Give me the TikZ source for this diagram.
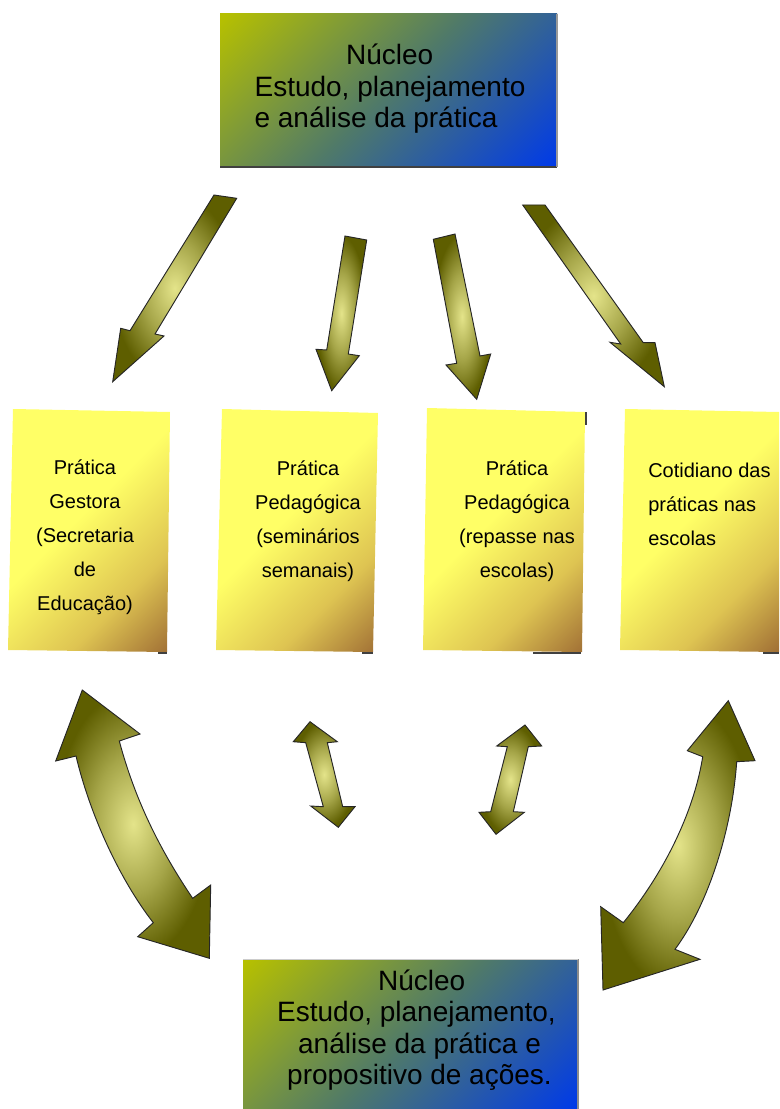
\documentclass[tikz,border=0pt]{standalone}
\usepackage{fontspec}
\setmainfont{Liberation Sans}
\definecolor{alight}{RGB}{228,228,138}
\definecolor{amid}{RGB}{165,165,72}
\definecolor{adark}{RGB}{94,94,0}
\definecolor{ylw}{RGB}{255,255,102}
\definecolor{ymid}{RGB}{222,196,82}
\definecolor{ybrn}{RGB}{158,108,52}
\definecolor{cone}{RGB}{182,192,0}
\definecolor{ctwo}{RGB}{80,122,104}
\definecolor{cthree}{RGB}{0,58,232}
\pgfdeclareradialshading{arrowshade}{\pgfpoint{0bp}{0bp}}{color(0bp)=(alight); color(13bp)=(amid); color(25bp)=(adark); color(50bp)=(adark)}
\pgfdeclarehorizontalshading{yelshade}{100bp}{color(0bp)=(ylw); color(46bp)=(ylw); color(68bp)=(ymid); color(86bp)=(ybrn); color(100bp)=(ybrn)}
\pgfdeclarehorizontalshading{coreshade}{100bp}{color(0bp)=(cone); color(15bp)=(cone); color(50bp)=(ctwo); color(85bp)=(cthree); color(100bp)=(cthree)}
\tikzset{
  blockarrow/.style={shading=arrowshade, draw=black!85, line width=0.7pt, line join=miter},
  yelbox/.style={shading=yelshade, shading angle=-45},
  corebox/.style={shading=coreshade, shading angle=-45},
  coretext/.style={font=\fontsize{21}{23.6}\selectfont, align=left, inner sep=0pt, text=black},
  yeltext/.style={font=\fontsize{15}{25.5}\selectfont, align=center, inner sep=0pt, text=black},
  shadowline/.style={draw=black!75, line width=1.2pt}
}
\begin{document}
\begin{tikzpicture}[x=0.75pt,y=-0.75pt]
\useasboundingbox (0,0) rectangle (779,1109);
% core boxes
\shade[corebox] (220,14) rectangle (557,167);
\draw[shadowline] (220,167) -- (557,167);
\draw[draw=black!40, line width=0.8pt] (557,14) -- (557,167);
\node[coretext] (coretop) at (390,89) {\hspace*{68.6pt}Núcleo\\Estudo, planejamento\\e análise da prática};

\shade[corebox] (243,959) rectangle (578,1109);
\draw[draw=black!45, line width=0.8pt] (578,959) -- (578,1109);
\draw[draw=black!20, line width=0.6pt] (243,959) -- (578,959);
\node[coretext] (corebottom) at (416.5,1030) {\hspace*{75.7pt}Núcleo\\Estudo, planejamento,\\\hspace*{15.7pt}análise da prática e\\\hspace*{7.5pt}propositivo de ações.};

% yellow boxes
\shade[yelbox] (13,409) -- (170,412) -- (167,652) -- (8,650) -- cycle;
\shade[yelbox] (222,409) -- (378,413) -- (373,652) -- (216,650) -- cycle;
\shade[yelbox] (427,408) -- (585,412) -- (582,652) -- (423,650) -- cycle;
\shade[yelbox] (625,409) -- (779,412) -- (779,652) -- (620,650) -- cycle;
\draw[shadowline] (158,653) -- (167,653);
\draw[shadowline] (362,653) -- (373,653);
\draw[shadowline] (533,653) -- (581,653);
\draw[shadowline] (586,412) -- (586,425);
\draw[shadowline] (763,653) -- (779,653);

\node[yeltext] (gestora) at (85,537) {Prática\\Gestora\\(Secretaria\\de\\Educação)};
\node[yeltext] (seminarios) at (308,521) {Prática\\Pedagógica\\(seminários\\semanais)};
\node[yeltext] (repasse) at (517,521) {Prática\\Pedagógica\\(repasse nas\\escolas)};
\node[yeltext, align=left, anchor=west] (cotidiano) at (648,504) {Cotidiano das\\práticas nas\\escolas};

% top arrows
\shadedraw[blockarrow] (214,195) -- (236.7,198.3) -- (155,334) -- (164,336) -- (112.7,381.7) -- (120.7,328.3) -- (130,330.7) -- cycle;
\shadedraw[blockarrow] (345,236) -- (366.7,240) -- (348.3,354) -- (359.3,355.7) -- (331.7,390.7) -- (316,349.3) -- (326.7,350) -- cycle;
\shadedraw[blockarrow] (433.3,239.3) -- (455,234) -- (480,356) -- (490.7,354) -- (476.7,399.3) -- (446,365) -- (456.7,363.3) -- cycle;
\shadedraw[blockarrow] (522.7,205) -- (545,205) -- (643.3,342.7) -- (655,342.7) -- (664.3,386.7) -- (610,342.3) -- (620.7,344) -- cycle;

% bottom double arrows
\shadedraw[blockarrow] (82.3,690) -- (140,734) -- (119.3,741) .. controls (135,800) and (160,850) .. (192.7,898.3) -- (210.7,885) -- (209.3,958.3) -- (137.7,936.7) -- (153.3,922.7) .. controls (120,880) and (90,815) .. (76,756) -- (55.7,761) -- cycle;
\shadedraw[blockarrow] (310,721.7) -- (337.3,741.7) -- (327.3,742.7) -- (342.7,806.7) -- (355,806.7) -- (338.3,827.3) -- (310.7,806) -- (323.3,806.7) -- (305.7,742.7) -- (293.3,741.7) -- cycle;
\shadedraw[blockarrow] (525,725) -- (541.7,746) -- (528.3,746.7) -- (513.3,811.7) -- (524.3,812.3) -- (496,834.3) -- (479,812.3) -- (490.7,811.7) -- (507.3,746.7) -- (496.7,746) -- cycle;
\shadedraw[blockarrow] (728.3,700.7) -- (755,760.7) -- (736.7,761.7) .. controls (732,830) and (708,905) .. (675,949.3) -- (700,959.3) -- (603,990) -- (600.7,906.7) -- (623.3,922.7) .. controls (670,865) and (695,805) .. (702.7,756.7) -- (687.3,750.7) -- cycle;
\end{tikzpicture}
\end{document}
